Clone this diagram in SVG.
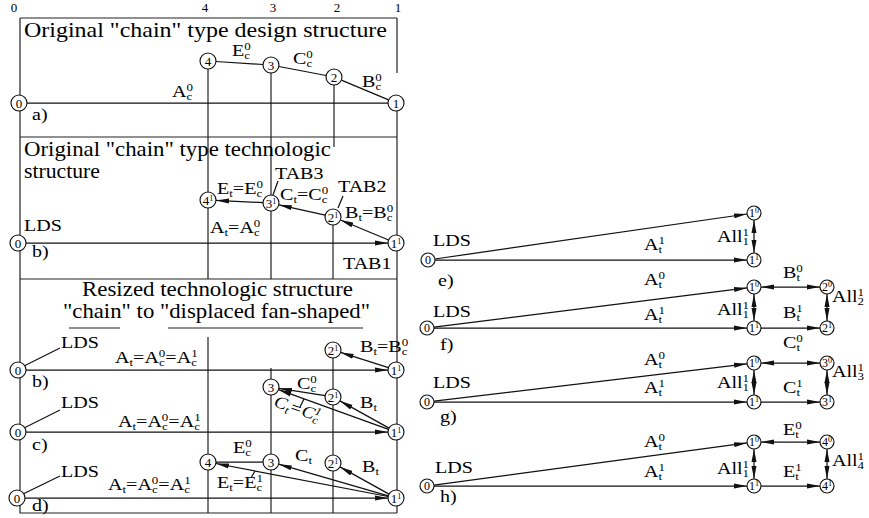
<svg xmlns="http://www.w3.org/2000/svg" width="869" height="518" viewBox="0 0 869 518">
<style>
.ln{stroke:#111;stroke-width:1.25;fill:none}
.fr{stroke:#222;stroke-width:1.2;fill:none}
.ar{marker-end:url(#ah)}
.da{marker-start:url(#ah);marker-end:url(#ah)}
.nd circle{fill:#fff;stroke:#111;stroke-width:1.15}
.nt{font-family:"Liberation Serif",serif;font-size:12px;text-anchor:middle;fill:#000}
.nl{font-size:13px}
.ns{font-size:8px}
.lb{font-family:"Liberation Serif",serif;font-size:17px;fill:#000}
.s{font-size:11px}
.ti{font-family:"Liberation Serif",serif;font-size:21px;fill:#000}
.cl{font-family:"Liberation Serif",serif;font-size:13px;fill:#000;text-anchor:middle}
</style>
<defs>
<marker id="ah" markerUnits="userSpaceOnUse" markerWidth="13" markerHeight="6" viewBox="0 0 13 6" refX="13" refY="3" orient="auto-start-reverse"><path d="M0,0.5 L13,3 L0,5.5 z" fill="#111"/></marker>
</defs>

<g id="frame">
<path class="fr" d="M20,18 H397 M20,18 V513 H397 M397,18 V73 M397,96 V513 M20,137 H397 M20,279 H397"/>
<path class="fr" d="M208,61 V279 M271,65 V279 M334,77 V147 M333,217 V279 M208,337 V513 M271,368 V513 M333,350 V513"/>
<text class="cl" x="14" y="12">0</text>
<text class="cl" x="205" y="12">4</text>
<text class="cl" x="273" y="12">3</text>
<text class="cl" x="337" y="12">2</text>
<text class="cl" x="398" y="12">1</text>
<text class="ti" x="24" y="37" textLength="363" lengthAdjust="spacingAndGlyphs">Original "chain" type design structure</text>
<text class="ti" x="24" y="156" textLength="307" lengthAdjust="spacingAndGlyphs">Original "chain" type technologic</text>
<text class="ti" x="24" y="178" textLength="76" lengthAdjust="spacingAndGlyphs">structure</text>
<text class="ti" x="82" y="296" textLength="271" lengthAdjust="spacingAndGlyphs">Resized technologic structure</text>
<text class="ti" x="63" y="318" textLength="307" lengthAdjust="spacingAndGlyphs">"chain" to "displaced fan-shaped"</text>
<path class="fr" d="M69,328 H120 M168,328 H363"/>
</g>

<g id="connectors">
<!-- a -->
<path class="ln" d="M27,103 H388"/>
<path class="ln" d="M216,61.5 L263,64.5"/>
<path class="ln" d="M278.9,66.5 L326.1,75.5"/>
<path class="ln" d="M341.4,80.1 L388.6,99.9"/>
<!-- b -->
<path class="ln ar" d="M26,243 H388"/>
<path class="ln ar" d="M388.6,240 L340.4,220"/>
<path class="ln ar" d="M325.2,215.2 L278.8,204.8"/>
<path class="ln ar" d="M263,202.6 L216,200.4"/>
<path class="ln" d="M278,181 L273,195 M343,196 L338,208"/>
<!-- resized b -->
<path class="ln ar" d="M26,370 H388"/>
<path class="ln ar" d="M388.4,367.6 L340.6,352.4"/>
<path class="ln" d="M24,366 L60,348"/>
<!-- resized c -->
<path class="ln ar" d="M26,432 H388"/>
<path class="ln ar" d="M389,428.1 L340,400.9"/>
<path class="ln ar" d="M325.1,395.7 L278.9,388.3"/>
<path class="ln ar" d="M388.5,429.3 L278.5,389.7"/>
<path class="ln" d="M24,428 L60,410"/>
<path class="ln" d="M300,407 L304,399"/>
<!-- resized d -->
<path class="ln ar" d="M25,498 H388"/>
<path class="ln ar" d="M389,494.1 L340,466.9"/>
<path class="ln ar" d="M388.3,495.8 L278.7,464.2"/>
<path class="ln ar" d="M388.1,496.5 L215.9,463.5"/>
<path class="ln" d="M216,462 H263"/>
<path class="ln" d="M23,494 L60,476"/>
<path class="ln" d="M251,478 L255,471"/>
<!-- e -->
<path class="ln ar" d="M434.9,259 L747.1,214"/>
<path class="ln ar" d="M435,260 H747"/>
<path class="ln da" d="M754,220 V253"/>
<!-- f -->
<path class="ln ar" d="M433.9,327.1 L747.1,287.9"/>
<path class="ln ar" d="M434,328 H747"/>
<path class="ln da" d="M761,287 H820"/>
<path class="ln ar" d="M761,328 H820"/>
<path class="ln da" d="M754,294 V321"/>
<path class="ln da" d="M827,294 V321"/>
<!-- g -->
<path class="ln ar" d="M434,401.2 L747,363.8"/>
<path class="ln ar" d="M434,402 H747"/>
<path class="ln da" d="M761,363 H820"/>
<path class="ln ar" d="M761,402 H820"/>
<path class="ln da" d="M754,370 V395"/>
<path class="ln da" d="M827,370 V395"/>
<!-- h -->
<path class="ln ar" d="M433.9,485.1 L747.1,442.9"/>
<path class="ln ar" d="M434,486 H747"/>
<path class="ln da" d="M761,442 H820"/>
<path class="ln ar" d="M761,486 H820"/>
<path class="ln da" d="M754,449 V479"/>
<path class="ln da" d="M827,449 V479"/>
</g>

<g id="nodes">
<g id="a-n0" class="nd"><circle cx="19" cy="103" r="8"/><text class="nt nl" x="19" y="107.5">0</text></g>
<g id="a-n4" class="nd"><circle cx="208" cy="61" r="8"/><text class="nt nl" x="208" y="65.5">4</text></g>
<g id="a-n3" class="nd"><circle cx="271" cy="65" r="8"/><text class="nt nl" x="271" y="69.5">3</text></g>
<g id="a-n2" class="nd"><circle cx="334" cy="77" r="8"/><text class="nt nl" x="334" y="81.5">2</text></g>
<g id="a-n1" class="nd"><circle cx="396" cy="103" r="8"/><text class="nt nl" x="396" y="107.5">1</text></g>

<g id="b-n0" class="nd"><circle cx="18" cy="243" r="8"/><text class="nt nl" x="18" y="247.5">0</text></g>
<g id="b-n4" class="nd"><circle cx="208" cy="200" r="8"/><text class="nt nl" x="208" y="204.5">4<tspan class="ns" dy="-4">1</tspan></text></g>
<g id="b-n3" class="nd"><circle cx="271" cy="203" r="8"/><text class="nt nl" x="271" y="207.5">3<tspan class="ns" dy="-4">1</tspan></text></g>
<g id="b-n2" class="nd"><circle cx="333" cy="217" r="8"/><text class="nt nl" x="333" y="221.5">2<tspan class="ns" dy="-4">1</tspan></text></g>
<g id="b-n1" class="nd"><circle cx="396" cy="243" r="8"/><text class="nt nl" x="396" y="247.5">1<tspan class="ns" dy="-4">1</tspan></text></g>

<g id="rb-n0" class="nd"><circle cx="18" cy="370" r="8"/><text class="nt nl" x="18" y="374.5">0</text></g>
<g id="rb-n2" class="nd"><circle cx="333" cy="350" r="8"/><text class="nt nl" x="333" y="354.5">2<tspan class="ns" dy="-4">1</tspan></text></g>
<g id="rb-n1" class="nd"><circle cx="396" cy="370" r="8"/><text class="nt nl" x="396" y="374.5">1<tspan class="ns" dy="-4">1</tspan></text></g>

<g id="rc-n0" class="nd"><circle cx="18" cy="432" r="8"/><text class="nt nl" x="18" y="436.5">0</text></g>
<g id="rc-n3" class="nd"><circle cx="271" cy="387" r="8"/><text class="nt nl" x="271" y="391.5">3</text></g>
<g id="rc-n2" class="nd"><circle cx="333" cy="397" r="8"/><text class="nt nl" x="333" y="401.5">2<tspan class="ns" dy="-4">1</tspan></text></g>
<g id="rc-n1" class="nd"><circle cx="396" cy="432" r="8"/><text class="nt nl" x="396" y="436.5">1<tspan class="ns" dy="-4">1</tspan></text></g>

<g id="rd-n0" class="nd"><circle cx="17" cy="498" r="8"/><text class="nt nl" x="17" y="502.5">0</text></g>
<g id="rd-n4" class="nd"><circle cx="208" cy="462" r="8"/><text class="nt nl" x="208" y="466.5">4</text></g>
<g id="rd-n3" class="nd"><circle cx="271" cy="462" r="8"/><text class="nt nl" x="271" y="466.5">3</text></g>
<g id="rd-n2" class="nd"><circle cx="333" cy="463" r="8"/><text class="nt nl" x="333" y="467.5">2<tspan class="ns" dy="-4">1</tspan></text></g>
<g id="rd-n1" class="nd"><circle cx="396" cy="498" r="8"/><text class="nt nl" x="396" y="502.5">1<tspan class="ns" dy="-4">1</tspan></text></g>

<g id="e-n0" class="nd"><circle cx="428" cy="260" r="7"/><text class="nt" x="428" y="264">0</text></g>
<g id="e-n10" class="nd"><circle cx="754" cy="213" r="7"/><text class="nt" x="754" y="217">1<tspan class="ns" dy="-4">0</tspan></text></g>
<g id="e-n11" class="nd"><circle cx="754" cy="260" r="7"/><text class="nt" x="754" y="264">1<tspan class="ns" dy="-4">1</tspan></text></g>

<g id="f-n0" class="nd"><circle cx="427" cy="328" r="7"/><text class="nt" x="427" y="332">0</text></g>
<g id="f-n10" class="nd"><circle cx="754" cy="287" r="7"/><text class="nt" x="754" y="291">1<tspan class="ns" dy="-4">0</tspan></text></g>
<g id="f-n20" class="nd"><circle cx="827" cy="287" r="7"/><text class="nt" x="827" y="291">2<tspan class="ns" dy="-4">0</tspan></text></g>
<g id="f-n11" class="nd"><circle cx="754" cy="328" r="7"/><text class="nt" x="754" y="332">1<tspan class="ns" dy="-4">1</tspan></text></g>
<g id="f-n21" class="nd"><circle cx="827" cy="328" r="7"/><text class="nt" x="827" y="332">2<tspan class="ns" dy="-4">1</tspan></text></g>

<g id="g-n0" class="nd"><circle cx="427" cy="402" r="7"/><text class="nt" x="427" y="406">0</text></g>
<g id="g-n10" class="nd"><circle cx="754" cy="363" r="7"/><text class="nt" x="754" y="367">1<tspan class="ns" dy="-4">0</tspan></text></g>
<g id="g-n30" class="nd"><circle cx="827" cy="363" r="7"/><text class="nt" x="827" y="367">3<tspan class="ns" dy="-4">0</tspan></text></g>
<g id="g-n11" class="nd"><circle cx="754" cy="402" r="7"/><text class="nt" x="754" y="406">1<tspan class="ns" dy="-4">1</tspan></text></g>
<g id="g-n31" class="nd"><circle cx="827" cy="402" r="7"/><text class="nt" x="827" y="406">3<tspan class="ns" dy="-4">1</tspan></text></g>

<g id="h-n0" class="nd"><circle cx="427" cy="486" r="7"/><text class="nt" x="427" y="490">0</text></g>
<g id="h-n10" class="nd"><circle cx="754" cy="442" r="7"/><text class="nt" x="754" y="446">1<tspan class="ns" dy="-4">0</tspan></text></g>
<g id="h-n40" class="nd"><circle cx="827" cy="442" r="7"/><text class="nt" x="827" y="446">4<tspan class="ns" dy="-4">0</tspan></text></g>
<g id="h-n11" class="nd"><circle cx="754" cy="486" r="7"/><text class="nt" x="754" y="490">1<tspan class="ns" dy="-4">1</tspan></text></g>
<g id="h-n41" class="nd"><circle cx="827" cy="486" r="7"/><text class="nt" x="827" y="490">4<tspan class="ns" dy="-4">1</tspan></text></g>
</g>

<g id="labels">
<!-- a -->
<text class="lb" transform="translate(172,97) scale(1.18,1)">A<tspan class="s" dy="3">c</tspan><tspan class="s" dx="-4.9" dy="-9">0</tspan></text>
<text class="lb" transform="translate(232,56) scale(1.18,1)">E<tspan class="s" dy="3">c</tspan><tspan class="s" dx="-4.9" dy="-9">0</tspan></text>
<text class="lb" transform="translate(293,64) scale(1.18,1)">C<tspan class="s" dy="3">c</tspan><tspan class="s" dx="-4.9" dy="-9">0</tspan></text>
<text class="lb" transform="translate(362,87) scale(1.18,1)">B<tspan class="s" dy="3">c</tspan><tspan class="s" dx="-4.9" dy="-9">0</tspan></text>
<text class="lb" transform="translate(32,120) scale(1.18,1)">a)</text>
<!-- b -->
<text class="lb" transform="translate(217,194) scale(1.18,1)">E<tspan class="s" dy="3">t</tspan><tspan dy="-3">=E</tspan><tspan class="s" dy="3">c</tspan><tspan class="s" dx="-4.9" dy="-9">0</tspan></text>
<text class="lb" transform="translate(275,179) scale(1.18,1)">TAB3</text>
<text class="lb" transform="translate(280,200) scale(1.18,1)">C<tspan class="s" dy="3">t</tspan><tspan dy="-3">=C</tspan><tspan class="s" dy="3">c</tspan><tspan class="s" dx="-4.9" dy="-9">0</tspan></text>
<text class="lb" transform="translate(338,192) scale(1.18,1)">TAB2</text>
<text class="lb" transform="translate(345,218) scale(1.18,1)">B<tspan class="s" dy="3">t</tspan><tspan dy="-3">=B</tspan><tspan class="s" dy="3">c</tspan><tspan class="s" dx="-4.9" dy="-9">0</tspan></text>
<text class="lb" transform="translate(210,233) scale(1.18,1)">A<tspan class="s" dy="3">t</tspan><tspan dy="-3">=A</tspan><tspan class="s" dy="3">c</tspan><tspan class="s" dx="-4.9" dy="-9">0</tspan></text>
<text class="lb" transform="translate(24,231) scale(1.18,1)">LDS</text>
<text class="lb" transform="translate(32,257) scale(1.18,1)">b)</text>
<text class="lb" transform="translate(343,269) scale(1.18,1)">TAB1</text>
<!-- resized b -->
<text class="lb" transform="translate(61,348) scale(1.18,1)">LDS</text>
<text class="lb" transform="translate(115,363) scale(1.18,1)">A<tspan class="s" dy="3">t</tspan><tspan dy="-3">=A</tspan><tspan class="s" dy="3">c</tspan><tspan class="s" dx="-4.9" dy="-9">0</tspan><tspan dy="6">=A</tspan><tspan class="s" dy="3">c</tspan><tspan class="s" dx="-4.9" dy="-9">1</tspan></text>
<text class="lb" transform="translate(360,352) scale(1.18,1)">B<tspan class="s" dy="3">t</tspan><tspan dy="-3">=B</tspan><tspan class="s" dy="3">c</tspan><tspan class="s" dx="-4.9" dy="-9">0</tspan></text>
<text class="lb" transform="translate(32,387) scale(1.18,1)">b)</text>
<!-- resized c -->
<text class="lb" transform="translate(297,389) scale(1.18,1)">C<tspan class="s" dy="3">c</tspan><tspan class="s" dx="-4.9" dy="-9">0</tspan></text>
<text class="lb" font-style="italic" transform="translate(273,406) rotate(19) scale(1.12,1)">C<tspan class="s" dy="3">t</tspan><tspan dy="-3">=C</tspan><tspan class="s" dy="3">c</tspan><tspan class="s" dx="-4.9" dy="-9">1</tspan></text>
<text class="lb" transform="translate(360,408) scale(1.18,1)">B<tspan class="s" dy="3">t</tspan></text>
<text class="lb" transform="translate(61,408) scale(1.18,1)">LDS</text>
<text class="lb" transform="translate(118,427) scale(1.18,1)">A<tspan class="s" dy="3">t</tspan><tspan dy="-3">=A</tspan><tspan class="s" dy="3">c</tspan><tspan class="s" dx="-4.9" dy="-9">0</tspan><tspan dy="6">=A</tspan><tspan class="s" dy="3">c</tspan><tspan class="s" dx="-4.9" dy="-9">1</tspan></text>
<text class="lb" transform="translate(32,450) scale(1.18,1)">c)</text>
<!-- resized d -->
<text class="lb" transform="translate(233,453) scale(1.18,1)">E<tspan class="s" dy="3">c</tspan><tspan class="s" dx="-4.9" dy="-9">0</tspan></text>
<text class="lb" transform="translate(295,461) scale(1.18,1)">C<tspan class="s" dy="3">t</tspan></text>
<text class="lb" transform="translate(362,472) scale(1.18,1)">B<tspan class="s" dy="3">t</tspan></text>
<text class="lb" transform="translate(217,488) scale(1.18,1)">E<tspan class="s" dy="3">t</tspan><tspan dy="-3">=E</tspan><tspan class="s" dy="3">c</tspan><tspan class="s" dx="-4.9" dy="-9">1</tspan></text>
<text class="lb" transform="translate(61,477) scale(1.18,1)">LDS</text>
<text class="lb" transform="translate(108,490) scale(1.18,1)">A<tspan class="s" dy="3">t</tspan><tspan dy="-3">=A</tspan><tspan class="s" dy="3">c</tspan><tspan class="s" dx="-4.9" dy="-9">0</tspan><tspan dy="6">=A</tspan><tspan class="s" dy="3">c</tspan><tspan class="s" dx="-4.9" dy="-9">1</tspan></text>
<text class="lb" transform="translate(32,511) scale(1.18,1)">d)</text>
<!-- e -->
<text class="lb" transform="translate(433,246) scale(1.18,1)">LDS</text>
<text class="lb" transform="translate(644,250) scale(1.18,1)">A<tspan class="s" dy="3">t</tspan><tspan class="s" dx="-3.1" dy="-9">1</tspan></text>
<text class="lb" transform="translate(717,242) scale(1.18,1)">All<tspan class="s" dy="3">1</tspan><tspan class="s" dx="-5.5" dy="-9">1</tspan></text>
<text class="lb" transform="translate(438,286) scale(1.18,1)">e)</text>
<!-- f -->
<text class="lb" transform="translate(644,285) scale(1.18,1)">A<tspan class="s" dy="3">t</tspan><tspan class="s" dx="-3.1" dy="-9">0</tspan></text>
<text class="lb" transform="translate(433,317) scale(1.18,1)">LDS</text>
<text class="lb" transform="translate(644,320) scale(1.18,1)">A<tspan class="s" dy="3">t</tspan><tspan class="s" dx="-3.1" dy="-9">1</tspan></text>
<text class="lb" transform="translate(717,315) scale(1.18,1)">All<tspan class="s" dy="3">1</tspan><tspan class="s" dx="-5.5" dy="-9">1</tspan></text>
<text class="lb" transform="translate(783,278) scale(1.18,1)">B<tspan class="s" dy="3">t</tspan><tspan class="s" dx="-3.1" dy="-9">0</tspan></text>
<text class="lb" transform="translate(783,318) scale(1.18,1)">B<tspan class="s" dy="3">t</tspan><tspan class="s" dx="-3.1" dy="-9">1</tspan></text>
<text class="lb" transform="translate(832,302) scale(1.18,1)">All<tspan class="s" dy="3">2</tspan><tspan class="s" dx="-5.5" dy="-9">1</tspan></text>
<text class="lb" transform="translate(440,350) scale(1.18,1)">f)</text>
<!-- g -->
<text class="lb" transform="translate(644,365) scale(1.18,1)">A<tspan class="s" dy="3">t</tspan><tspan class="s" dx="-3.1" dy="-9">0</tspan></text>
<text class="lb" transform="translate(433,388) scale(1.18,1)">LDS</text>
<text class="lb" transform="translate(644,393) scale(1.18,1)">A<tspan class="s" dy="3">t</tspan><tspan class="s" dx="-3.1" dy="-9">1</tspan></text>
<text class="lb" transform="translate(717,388) scale(1.18,1)">All<tspan class="s" dy="3">1</tspan><tspan class="s" dx="-5.5" dy="-9">1</tspan></text>
<text class="lb" transform="translate(783,348) scale(1.18,1)">C<tspan class="s" dy="3">t</tspan><tspan class="s" dx="-3.1" dy="-9">0</tspan></text>
<text class="lb" transform="translate(783,393) scale(1.18,1)">C<tspan class="s" dy="3">t</tspan><tspan class="s" dx="-3.1" dy="-9">1</tspan></text>
<text class="lb" transform="translate(832,377) scale(1.18,1)">All<tspan class="s" dy="3">3</tspan><tspan class="s" dx="-5.5" dy="-9">1</tspan></text>
<text class="lb" transform="translate(440,422) scale(1.18,1)">g)</text>
<!-- h -->
<text class="lb" transform="translate(644,447) scale(1.18,1)">A<tspan class="s" dy="3">t</tspan><tspan class="s" dx="-3.1" dy="-9">0</tspan></text>
<text class="lb" transform="translate(435,473) scale(1.18,1)">LDS</text>
<text class="lb" transform="translate(644,477) scale(1.18,1)">A<tspan class="s" dy="3">t</tspan><tspan class="s" dx="-3.1" dy="-9">1</tspan></text>
<text class="lb" transform="translate(717,474) scale(1.18,1)">All<tspan class="s" dy="3">1</tspan><tspan class="s" dx="-5.5" dy="-9">1</tspan></text>
<text class="lb" transform="translate(783,435) scale(1.18,1)">E<tspan class="s" dy="3">t</tspan><tspan class="s" dx="-3.1" dy="-9">0</tspan></text>
<text class="lb" transform="translate(783,477) scale(1.18,1)">E<tspan class="s" dy="3">t</tspan><tspan class="s" dx="-3.1" dy="-9">1</tspan></text>
<text class="lb" transform="translate(832,466) scale(1.18,1)">All<tspan class="s" dy="3">4</tspan><tspan class="s" dx="-5.5" dy="-9">1</tspan></text>
<text class="lb" transform="translate(440,502) scale(1.18,1)">h)</text>
</g>
</svg>
